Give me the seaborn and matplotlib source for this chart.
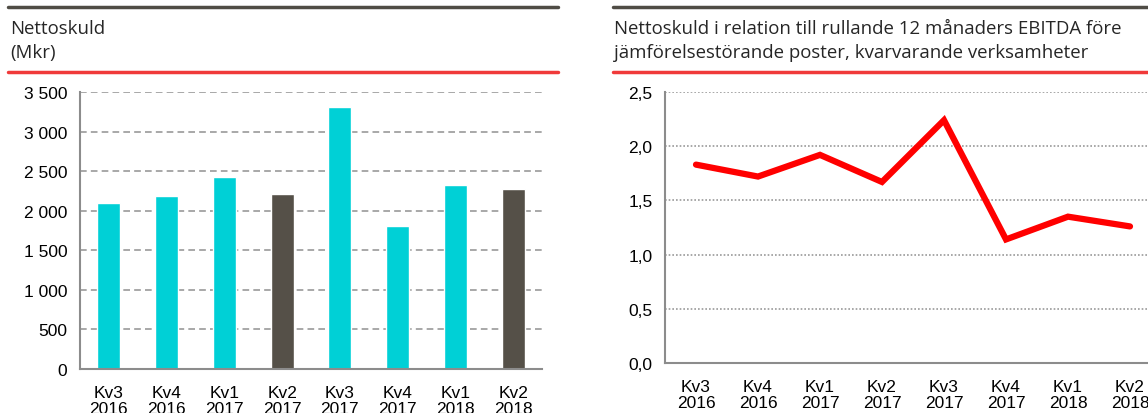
import matplotlib
matplotlib.use("Agg")
import matplotlib.pyplot as plt
import matplotlib.ticker as mticker
from matplotlib.lines import Line2D
import seaborn as sns
import pandas as pd

# --- Data ---
quarters = ["Kv3\n2016", "Kv4\n2016", "Kv1\n2017", "Kv2\n2017",
            "Kv3\n2017", "Kv4\n2017", "Kv1\n2018", "Kv2\n2018"]
net_debt = [2100, 2180, 2430, 2210, 3310, 1810, 2330, 2280]
debt_ratio = [1.83, 1.72, 1.92, 1.67, 2.24, 1.14, 1.35, 1.26]
half_year = [False, False, False, True, False, False, False, True]

CYAN = "#00d0d6"
DARK = "#555048"
RED = "#ff0000"
RULE_RED = "#f03a3a"
AXIS_GREY = "#8c8c8c"

sns.set_style("white")
plt.rcParams["font.family"] = ["Liberation Sans", "DejaVu Sans"]
TITLE_FONT = ["Open Sans", "DejaVu Sans"]

W, H = 1148, 414
fig = plt.figure(figsize=(W / 100, H / 100), dpi=100)


def fx(px):
    return px / W


def fy(py):
    return 1 - py / H


def style_axis(ax, grid_style):
    for side in ["top", "right"]:
        ax.spines[side].set_visible(False)
    for side in ["left", "bottom"]:
        ax.spines[side].set_color(AXIS_GREY)
        ax.spines[side].set_linewidth(1.5)
    ax.set_xlim(-0.5, len(quarters) - 0.5)
    ax.set_xticks(range(len(quarters)))
    ax.set_xticklabels(quarters)
    ax.set_xticks([i - 0.5 for i in range(len(quarters) + 1)], minor=True)
    ax.tick_params(axis="x", which="major", length=0, pad=11.5, labelsize=12.5,
                   colors="#000000")
    ax.tick_params(axis="x", which="minor", length=5, width=1.5,
                   color=AXIS_GREY, direction="out")
    ax.tick_params(axis="y", length=5, width=1.5, color=AXIS_GREY,
                   direction="out", labelsize=12.5, labelcolor="#000000", pad=4)
    ax.yaxis.grid(True, color="#999999", linestyle=grid_style, linewidth=1.2)
    ax.set_axisbelow(True)
    ax.set_xlabel("")
    ax.set_ylabel("")
    for lab in ax.get_xticklabels():
        lab.set_linespacing(1.1)


# --- Left: Nettoskuld bars ---
ax1 = fig.add_axes([fx(80), fy(370), fx(542 - 80), fy(93) - fy(370)])
df1 = pd.DataFrame({"quarter": quarters, "value": net_debt})
bar_colors = [DARK if h else CYAN for h in half_year]
sns.barplot(data=df1, x="quarter", y="value", hue="quarter",
            palette=bar_colors, width=0.4, legend=False, ax=ax1,
            saturation=1)
ax1.set_ylim(0, 3500)
ax1.set_yticks(range(0, 3501, 500))
ax1.yaxis.set_major_formatter(
    mticker.FuncFormatter(lambda v, p: f"{int(v):,}".replace(",", " ")))
style_axis(ax1, (0, (4, 2.5)))

# --- Right: ratio line ---
ax2 = fig.add_axes([fx(665), fy(364), fx(62 * 8), fy(93) - fy(364)])
df2 = pd.DataFrame({"quarter": quarters, "value": debt_ratio})
sns.lineplot(data=df2, x="quarter", y="value", color=RED, linewidth=4.5,
             ax=ax2, sort=False, solid_capstyle="round",
             solid_joinstyle="miter")
ax2.set_ylim(0, 2.5)
ax2.set_yticks([0, 0.5, 1.0, 1.5, 2.0, 2.5])
ax2.yaxis.set_major_formatter(
    mticker.FuncFormatter(lambda v, p: f"{v:.1f}".replace(".", ",")))
style_axis(ax2, (0, (1, 1.2)))

# --- Header rules and titles ---
for x0, x1 in [(8, 558), (613, 1148)]:
    fig.add_artist(Line2D([fx(x0), fx(x1)], [fy(8), fy(8)],
                          color="#4f4c45", linewidth=2.5,
                          transform=fig.transFigure))
    fig.add_artist(Line2D([fx(x0), fx(x1)], [fy(73), fy(73)],
                          color=RULE_RED, linewidth=2.5,
                          transform=fig.transFigure))

fig.text(fx(10), fy(20), "Nettoskuld\n(Mkr)", ha="left", va="top",
         fontsize=13.4, family=TITLE_FONT, linespacing=1.4)
fig.text(fx(614), fy(20),
         "Nettoskuld i relation till rullande 12 månaders EBITDA före\n"
         "jämförelsestörande poster, kvarvarande verksamheter",
         ha="left", va="top", fontsize=13.4, family=TITLE_FONT,
         linespacing=1.4)

fig.savefig("out.png", dpi=100)
